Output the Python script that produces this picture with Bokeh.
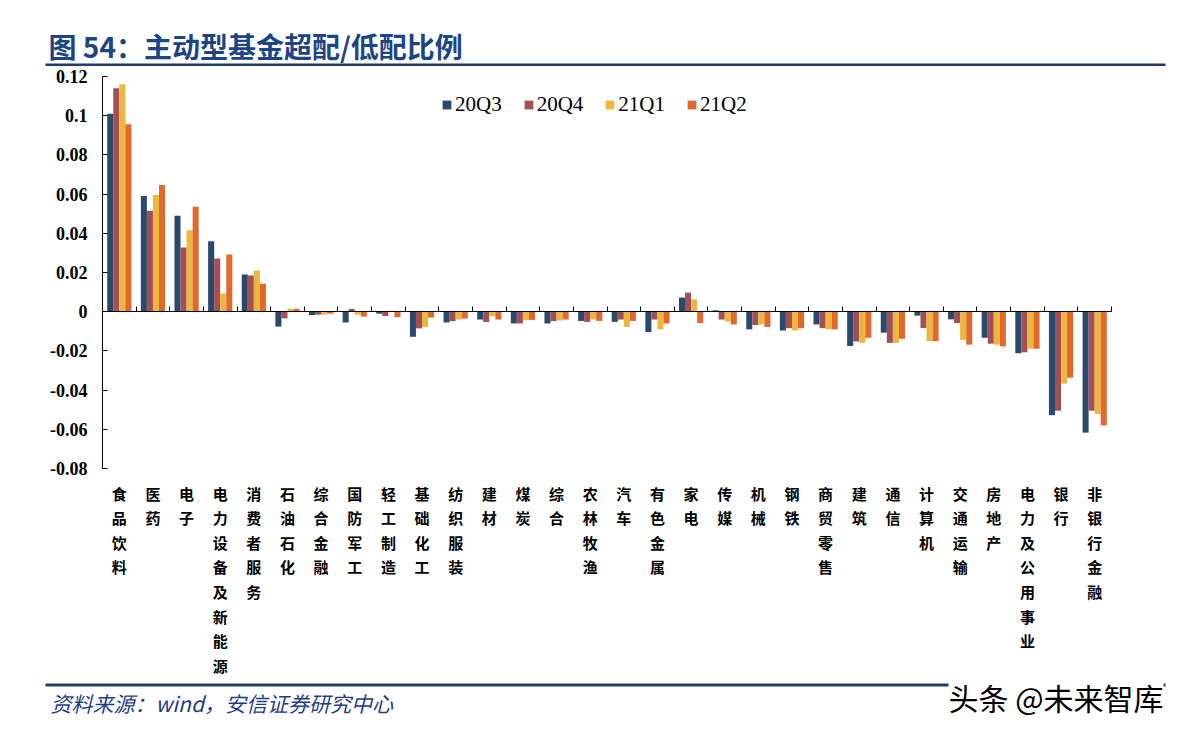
from bokeh.plotting import figure
from bokeh.models import (Range1d, LinearAxis, FixedTicker, Label, BoxAnnotation,
                          Legend, LegendItem, ColumnDataSource)
from bokeh.embed import file_html
from bokeh.resources import INLINE

categories = ["食品饮料", "医药", "电子", "电力设备及新能源", "消费者服务", "石油石化", "综合金融",
              "国防军工", "轻工制造", "基础化工", "纺织服装", "建材", "煤炭", "综合", "农林牧渔",
              "汽车", "有色金属", "家电", "传媒", "机械", "钢铁", "商贸零售", "建筑", "通信",
              "计算机", "交通运输", "房地产", "电力及公用事业", "银行", "非银行金融"]
series_names = ["20Q3", "20Q4", "21Q1", "21Q2"]
v_20q3 = [0.101, 0.059, 0.049, 0.036, 0.019, -0.0076, -0.0017, -0.0055, -0.001, -0.0128,
          -0.0055, -0.004, -0.006, -0.006, -0.0047, -0.0052, -0.0104, 0.0072, 0.0007, -0.009,
          -0.0096, -0.0065, -0.0175, -0.0107, -0.002, -0.0039, -0.0133, -0.0212, -0.0528, -0.0617]
v_20q4 = [0.114, 0.0515, 0.0328, 0.0272, 0.0185, -0.0034, -0.0015, 0.0014, -0.0022, -0.0085,
          -0.0048, -0.0053, -0.006, -0.0048, -0.0052, -0.004, -0.004, 0.0097, -0.004, -0.0068,
          -0.0084, -0.0084, -0.0152, -0.0159, -0.0083, -0.0058, -0.0163, -0.0207, -0.0505, -0.0505]
v_21q1 = [0.116, 0.0595, 0.0415, 0.0093, 0.021, 0.0015, -0.0015, -0.0015, 0.0005, -0.0078,
          -0.004, -0.0022, -0.0042, -0.0045, -0.004, -0.0078, -0.009, 0.0063, -0.005, -0.0065,
          -0.0096, -0.009, -0.0159, -0.0159, -0.015, -0.0144, -0.0168, -0.0189, -0.0367, -0.0522]
v_21q2 = [0.0957, 0.0646, 0.0536, 0.0292, 0.0143, 0.0015, -0.001, -0.0025, -0.0028, -0.003,
          -0.0035, -0.004, -0.0042, -0.004, -0.0047, -0.0047, -0.006, -0.0058, -0.0065, -0.0078,
          -0.0084, -0.009, -0.0133, -0.0138, -0.015, -0.0168, -0.0177, -0.0189, -0.0337, -0.058]
y_ticks = [-0.08, -0.06, -0.04, -0.02, 0, 0.02, 0.04, 0.06, 0.08, 0.1, 0.12]
y_tick_labels = ["-0.08", "-0.06", "-0.04", "-0.02", "0", "0.02", "0.04", "0.06", "0.08", "0.1", "0.12"]

title_text = "图 54：主动型基金超配/低配比例"
source_text = "资料来源：wind，安信证券研究中心"
watermark_text = "头条 @未来智库"

colors = ["#2A4A6B", "#A24F57", "#EDB63E", "#E1692B"]
all_series = [v_20q3, v_20q4, v_21q1, v_21q2]
RULE = "#1F3A6E"

# ---- page geometry (canvas pixels, canvas = window) ----
W, H = 1188, 733
PLOT_L, PLOT_R = 102, 1111
PLOT_T, PLOT_B = 76, 468
n = len(categories)
y_lo, y_hi = y_ticks[0], y_ticks[-1]
xpx = (PLOT_R - PLOT_L) / n
ypx = (PLOT_B - PLOT_T) / (y_hi - y_lo)
x_range = Range1d(-PLOT_L / xpx, n + (W - PLOT_R) / xpx)
y_range = Range1d(y_lo - (H - PLOT_B) / ypx, y_hi + PLOT_T / ypx)

p = figure(width=W, height=H, output_backend="svg", toolbar_location=None,
           x_range=x_range, y_range=y_range,
           x_axis_location=None, y_axis_location=None,
           min_border=0, min_border_left=0, min_border_right=0,
           min_border_top=0, min_border_bottom=0)
p.outline_line_color = None
p.grid.visible = False

bar_w = 0.18
offsets = [-1.5 * bar_w, -0.5 * bar_w, 0.5 * bar_w, 1.5 * bar_w]
renderers = []
for vals, col, off in zip(all_series, colors, offsets):
    src = ColumnDataSource(dict(x=[i + 0.5 + off for i in range(n)], top=vals))
    r = p.vbar(x="x", top="top", bottom=0, width=bar_w, source=src,
               fill_color=col, line_color=None)
    renderers.append(r)

# y axis at the left edge of the plot area
yax = LinearAxis(fixed_location=0, bounds=(y_lo, y_hi), ticker=FixedTicker(ticks=y_ticks),
                 major_label_overrides={t: l for t, l in zip(y_ticks, y_tick_labels)})
yax.major_tick_in = 5
yax.major_tick_out = 0
yax.minor_tick_line_color = None
yax.axis_line_color = "black"
yax.major_tick_line_color = "black"
yax.major_label_text_font = "Liberation Serif"
yax.major_label_text_font_style = "bold"
yax.major_label_text_font_size = "18px"
yax.major_label_text_color = "black"
yax.major_label_standoff = 15
p.add_layout(yax, "left")

# category axis along the zero line: boundary ticks (minor), labels below the plot area
centers = [i + 0.5 for i in range(n)]
bounds = list(range(1, n + 1))
xax = LinearAxis(fixed_location=0, bounds=(0, n),
                 ticker=FixedTicker(ticks=centers, minor_ticks=bounds),
                 major_label_overrides={c: "\n".join(name) for c, name in zip(centers, categories)})
xax.axis_line_color = "black"
xax.major_tick_line_color = None
xax.major_tick_in = 0
xax.major_tick_out = 0
xax.minor_tick_line_color = "black"
xax.minor_tick_in = 5
xax.minor_tick_out = 0
xax.major_label_text_font = "Noto Sans CJK SC"
xax.major_label_text_font_style = "bold"
xax.major_label_text_font_size = "15px"
xax.major_label_text_line_height = 1.17
xax.major_label_text_color = "black"
xax.major_label_standoff = int(round((0 - y_lo) * ypx)) + 14
p.add_layout(xax, "below")

legend = Legend(items=[LegendItem(label=s, renderers=[r]) for s, r in zip(series_names, renderers)],
                orientation="horizontal", location=(441, 616))
legend.glyph_width = 11
legend.glyph_height = 11
legend.label_height = 20
legend.label_standoff = 3
legend.spacing = 21
legend.padding = 0
legend.margin = 0
legend.border_line_color = None
legend.background_fill_alpha = 0
legend.label_text_font = "Liberation Serif"
legend.label_text_font_size = "21px"
legend.label_text_color = "black"
p.add_layout(legend, "center")


def hrule(left, right, bottom, top):
    p.add_layout(BoxAnnotation(left=left, right=right, top=top, bottom=bottom,
                               left_units="screen", right_units="screen",
                               top_units="screen", bottom_units="screen",
                               fill_color=RULE, fill_alpha=1, line_color=None))


# title and rule
p.add_layout(Label(x=48, y=H - 45, x_units="screen", y_units="screen", text=title_text,
                   text_baseline="middle", text_font="Noto Sans CJK SC",
                   text_font_style="bold", text_font_size="28px", text_color="#1B4585"))
hrule(45, 1165, H - 65.5, H - 63)

# footer rule, source and watermark
hrule(45, 1165, H - 686, H - 683)
p.add_layout(Label(x=50, y=H - 702, x_units="screen", y_units="screen", text=source_text,
                   text_baseline="middle", text_font="Noto Sans CJK SC",
                   text_font_style="italic", text_font_size="21px", text_color="#1F3C88"))
p.add_layout(Label(x=948, y=H - 696, x_units="screen", y_units="screen", text=watermark_text,
                   text_baseline="middle", text_font="Noto Sans CJK SC",
                   text_font_size="30px", text_color="black",
                   background_fill_color="white", background_fill_alpha=1))

open("out.html", "w").write(file_html(p, INLINE))
